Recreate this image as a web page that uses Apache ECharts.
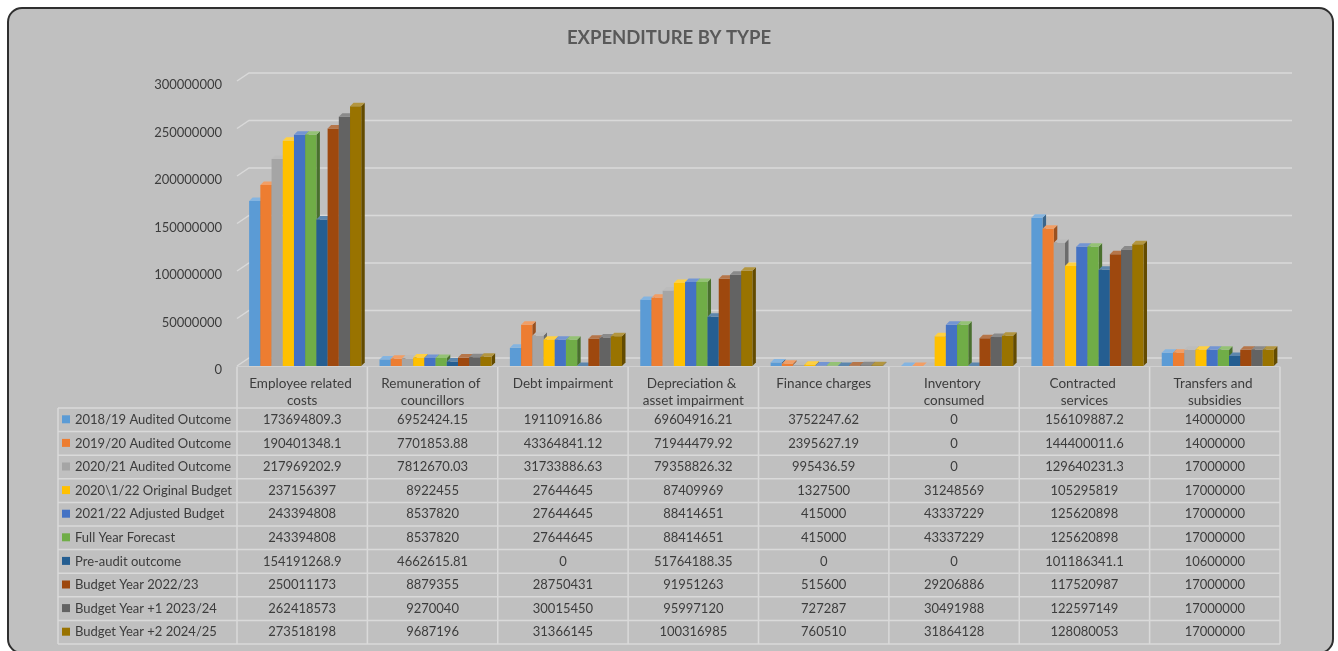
<!DOCTYPE html>
<html>
<head>
<meta charset="utf-8">
<title>Expenditure by type</title>
<script src="https://cdn.jsdelivr.net/npm/echarts@6/dist/echarts.min.js"></script>
<style>
  html, body { margin: 0; padding: 0; background: #ffffff; }
  #chart { width: 1338px; height: 651px; }
</style>
</head>
<body>
<div id="chart"></div>
<script>
// Expenditure categories (columns of the data table)
const categories = [
  'Employee related costs',
  'Remuneration of councillors',
  'Debt impairment',
  'Depreciation & asset impairment',
  'Finance charges',
  'Inventory consumed',
  'Contracted services',
  'Transfers and subsidies'
];

// Series names (rows of the data table)
const seriesNames = [
  '2018/19 Audited Outcome',
  '2019/20 Audited Outcome',
  '2020/21 Audited Outcome',
  '2020\\1/22 Original Budget',
  '2021/22 Adjusted Budget',
  'Full Year Forecast',
  'Pre-audit outcome',
  'Budget Year 2022/23',
  'Budget Year +1 2023/24',
  'Budget Year +2 2024/25'
];

// Values per series, in category order
const audited1819   = [173694809.3, 6952424.15, 19110916.86, 69604916.21, 3752247.62, 0, 156109887.2, 14000000];
const audited1920   = [190401348.1, 7701853.88, 43364841.12, 71944479.92, 2395627.19, 0, 144400011.6, 14000000];
const audited2021   = [217969202.9, 7812670.03, 31733886.63, 79358826.32, 995436.59, 0, 129640231.3, 17000000];
const original2122  = [237156397, 8922455, 27644645, 87409969, 1327500, 31248569, 105295819, 17000000];
const adjusted2122  = [243394808, 8537820, 27644645, 88414651, 415000, 43337229, 125620898, 17000000];
const fullForecast  = [243394808, 8537820, 27644645, 88414651, 415000, 43337229, 125620898, 17000000];
const preAudit      = [154191268.9, 4662615.81, 0, 51764188.35, 0, 0, 101186341.1, 10600000];
const budget2223    = [250011173, 8879355, 28750431, 91951263, 515600, 29206886, 117520987, 17000000];
const budget2324    = [262418573, 9270040, 30015450, 95997120, 727287, 30491988, 122597149, 17000000];
const budget2425    = [273518198, 9687196, 31366145, 100316985, 760510, 31864128, 128080053, 17000000];

const seriesValues = [
  audited1819, audited1920, audited2021, original2122, adjusted2122,
  fullForecast, preAudit, budget2223, budget2324, budget2425
];

// Value axis ticks
const yTicks = [0, 50000000, 100000000, 150000000, 200000000, 250000000, 300000000];

const palette = ['#5B9BD5', '#ED7D31', '#A5A5A5', '#FFC000', '#4472C4',
                 '#70AD47', '#255E91', '#9E480E', '#636363', '#997300'];

const FONT = 'Lato, "Open Sans", sans-serif';
const TEXT = '#3c3c3c';

// Plot area geometry
const GRID = { left: 237, right: 58, top: 81, bottom: 285 };
const CHART_W = 1338, CHART_H = 651;
const plotW = CHART_W - GRID.left - GRID.right;
const colW = plotW / categories.length;
const floorY = CHART_H - GRID.bottom;

// 3D wall offset and bar depth
const WALL_DX = 12, WALL_DY = 8;
const DEPTH = 3.5;

function shade(hex, f) {
  const n = parseInt(hex.slice(1), 16);
  let r = (n >> 16) & 255, g = (n >> 8) & 255, b = n & 255;
  if (f >= 0) { r += (255 - r) * f; g += (255 - g) * f; b += (255 - b) * f; }
  else { r *= 1 + f; g *= 1 + f; b *= 1 + f; }
  return 'rgb(' + Math.round(r) + ',' + Math.round(g) + ',' + Math.round(b) + ')';
}

// Back wall gridlines with the short diagonal floor edge on the left
const wallSeries = {
  type: 'custom',
  silent: true,
  z: 1,
  data: yTicks.map(v => [0, v]),
  renderItem: function (params, api) {
    const cs = params.coordSys;
    const y = api.coord([0, api.value(1)])[1];
    const x0 = cs.x;
    const x1 = cs.x + cs.width + WALL_DX;
    return {
      type: 'polyline',
      shape: { points: [[x0, y], [x0 + WALL_DX, y - WALL_DY], [x1, y - WALL_DY]] },
      style: { stroke: '#d9d9d9', lineWidth: 1.5, fill: null }
    };
  }
};

// One custom 3D-looking column series per row of the table
const barSeries = seriesValues.map(function (vals, si) {
  const color = palette[si];
  return {
    type: 'custom',
    name: seriesNames[si],
    z: 2 + si,
    data: vals.map((v, ci) => [ci, v]),
    renderItem: function (params, api) {
      const ci = api.value(0);
      const base = api.coord([ci, 0]);
      const top = api.coord([ci, api.value(1)]);
      const band = api.size([1, 0])[0];
      const bw = band * 0.086;
      const x = base[0] - 5 * bw + 3 + si * bw;
      const yT = top[1], yB = base[1];
      const d = DEPTH;
      return {
        type: 'group',
        children: [
          {
            type: 'polygon',
            shape: { points: [[x + bw, yT], [x + bw + d, yT - d], [x + bw + d, yB - d], [x + bw, yB]] },
            style: { fill: shade(color, -0.35) }
          },
          {
            type: 'rect',
            shape: { x: x, y: yT, width: bw, height: yB - yT },
            style: { fill: color }
          },
          {
            type: 'polygon',
            shape: { points: [[x, yT], [x + d, yT - d], [x + bw + d, yT - d], [x + bw, yT]] },
            style: { fill: shade(color, 0.25) }
          }
        ]
      };
    }
  };
});

// Data table drawn under the category axis
const legendLeft = 58;
const rowTops = [];
const headerBottom = 408;
const rowH = 23.6;
for (let r = 0; r <= seriesNames.length; r++) rowTops.push(headerBottom + r * rowH);
const tableBottom = rowTops[rowTops.length - 1];
const lineStyle = { stroke: '#dadada', lineWidth: 1.5 };

const tableGraphics = [];
// horizontal rules
rowTops.forEach(function (y) {
  tableGraphics.push({ type: 'line', shape: { x1: legendLeft, y1: y, x2: GRID.left + plotW, y2: y }, style: lineStyle, silent: true });
});
// legend column border
tableGraphics.push({ type: 'line', shape: { x1: legendLeft, y1: headerBottom, x2: legendLeft, y2: tableBottom }, style: lineStyle, silent: true });
// category column borders
for (let k = 0; k <= categories.length; k++) {
  const x = GRID.left + k * colW;
  tableGraphics.push({ type: 'line', shape: { x1: x, y1: floorY + 1, x2: x, y2: tableBottom }, style: lineStyle, silent: true });
}
// rows: legend key, series name, values
seriesNames.forEach(function (name, r) {
  const cy = rowTops[r] + rowH / 2;
  tableGraphics.push({ type: 'rect', shape: { x: 62, y: cy - 4.5, width: 8, height: 8 }, style: { fill: palette[r] }, silent: true });
  tableGraphics.push({
    type: 'text', x: 75, y: cy, silent: true,
    style: { text: name, font: '13px ' + FONT, fill: TEXT, textVerticalAlign: 'middle', textAlign: 'left' }
  });
  seriesValues[r].forEach(function (v, c) {
    tableGraphics.push({
      type: 'text', x: GRID.left + (c + 0.5) * colW, y: cy, silent: true,
      style: { text: String(v), font: '13px ' + FONT, fill: TEXT, textVerticalAlign: 'middle', textAlign: 'center' }
    });
  });
});

const chart = echarts.init(document.getElementById('chart'), null, { renderer: 'canvas' });

chart.setOption({
  backgroundColor: '#ffffff',
  animation: false,
  title: {
    text: 'EXPENDITURE BY TYPE',
    left: 'center',
    top: 24,
    textStyle: { fontFamily: FONT, fontSize: 18.5, fontWeight: 'bold', color: '#595959' }
  },
  grid: GRID,
  xAxis: {
    type: 'category',
    data: categories,
    axisLine: { show: true, lineStyle: { color: '#d0d0d0', width: 1 } },
    axisTick: { show: false },
    splitLine: { show: false },
    axisLabel: {
      interval: 0,
      margin: 9,
      width: 114,
      overflow: 'break',
      lineHeight: 17,
      fontFamily: FONT,
      fontSize: 13.5,
      color: TEXT
    }
  },
  yAxis: {
    type: 'value',
    min: 0,
    max: 300000000,
    interval: 50000000,
    axisLine: { show: false },
    axisTick: { show: false },
    splitLine: { show: false },
    axisLabel: {
      margin: 15,
      verticalAlign: 'top',
      lineHeight: 8,
      fontFamily: FONT,
      fontSize: 13,
      color: TEXT,
      formatter: function (v) { return String(v); }
    }
  },
  graphic: [
    {
      type: 'rect', z: -10, silent: true,
      shape: { x: 8, y: 8, width: 1325, height: 645, r: 14 },
      style: { fill: '#c0c0c0', stroke: '#2f2f2f', lineWidth: 2 }
    },
    { type: 'group', z: 5, children: tableGraphics }
  ],
  series: [wallSeries].concat(barSeries)
});
</script>
</body>
</html>
